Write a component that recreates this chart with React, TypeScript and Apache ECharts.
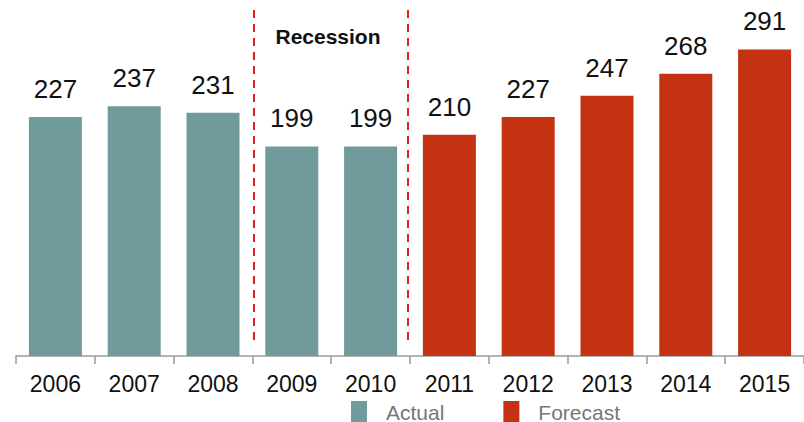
import React, { useEffect, useRef } from "react";
import * as echarts from "echarts";

const years = ["2006", "2007", "2008", "2009", "2010", "2011", "2012", "2013", "2014", "2015"];
const actualValues = [227, 237, 231, 199, 199, null, null, null, null, null];
const forecastValues = [null, null, null, null, null, 210, 227, 247, 268, 291];
const seriesNames = ["Actual", "Forecast"];
const recessionLabel = "Recession";

const FONT = "'Liberation Sans', Arial, sans-serif";

export default function App() {
  const ref = useRef<HTMLDivElement>(null);
  useEffect(() => {
    if (!ref.current) return;
    const chart = echarts.init(ref.current, null, { renderer: "svg" });
    const label = {
      show: true,
      position: "top",
      distance: 15,
      color: "#111",
      fontSize: 26,
      fontFamily: FONT,
    };
    chart.setOption({
      animation: false,
      textStyle: { fontFamily: FONT },
      grid: { left: 16, top: 40, width: 798, height: 316 },
      legend: {
        data: seriesNames,
        left: 351,
        top: 401,
        padding: 0,
        itemWidth: 16,
        itemHeight: 22,
        itemGap: 59,
        icon: "rect",
        textStyle: {
          color: "#777",
          fontSize: 21,
          lineHeight: 19,
          fontFamily: FONT,
          padding: [0, 0, 0, 14],
        },
      },
      xAxis: {
        type: "category",
        data: years,
        axisLine: { lineStyle: { color: "#9a9a9a", width: 1.5 } },
        axisTick: { show: true, length: 8, lineStyle: { color: "#9a9a9a", width: 1.5 } },
        axisLabel: { color: "#111", fontSize: 23, margin: 16, fontFamily: FONT, interval: 0 },
      },
      yAxis: { type: "value", min: 0, max: 300, show: false, splitLine: { show: false } },
      series: [
        {
          name: seriesNames[0],
          type: "bar",
          data: actualValues.map((v) => (v === null ? "-" : v)),
          barWidth: 53,
          barGap: "-100%",
          itemStyle: { color: "#709a9b" },
          label,
        },
        {
          name: seriesNames[1],
          type: "bar",
          data: forecastValues.map((v) => (v === null ? "-" : v)),
          barWidth: 53,
          itemStyle: { color: "#c43214" },
          label,
        },
      ],
      graphic: [
        {
          type: "line",
          shape: { x1: 254, y1: 10, x2: 254, y2: 342 },
          style: { stroke: "#e0201c", lineWidth: 2, lineDash: [8, 6] },
        },
        {
          type: "line",
          shape: { x1: 408, y1: 10, x2: 408, y2: 342 },
          style: { stroke: "#e0201c", lineWidth: 2, lineDash: [8, 6] },
        },
        {
          type: "text",
          x: 328,
          y: 36,
          style: {
            text: recessionLabel,
            fontSize: 21,
            fontWeight: "bold",
            fontFamily: FONT,
            fill: "#111",
            align: "center",
            verticalAlign: "middle",
          },
        },
      ],
    });
    return () => chart.dispose();
  }, []);
  return (
    <div
      ref={ref}
      style={{ position: "absolute", left: 0, top: 0, width: 804, height: 422, background: "#fff" }}
    />
  );
}
